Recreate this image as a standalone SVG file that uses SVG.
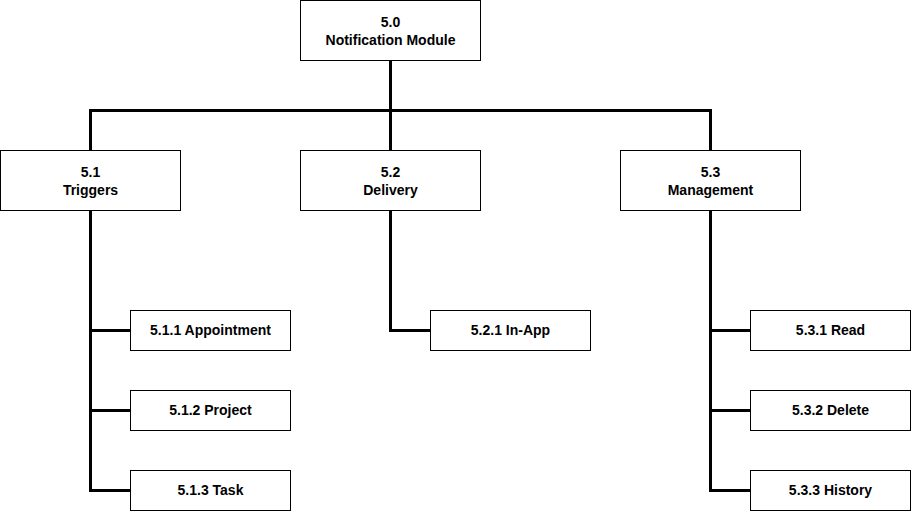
<svg xmlns="http://www.w3.org/2000/svg" width="912" height="512" viewBox="0 0 912 512">
<style>
.box{fill:#fff;stroke:#000;stroke-width:1}
.t{font-family:"Liberation Sans",Arial,sans-serif;font-size:14px;font-weight:bold;fill:#000;text-anchor:middle}
.c{fill:none;stroke:#000;stroke-width:3;stroke-linejoin:miter}
</style>
<rect width="912" height="512" fill="#fff"/>
<g id="connectors">
<path class="c" d="M390.5 60.5V150.5"/>
<path class="c" d="M90.5 150.5V110.5H710.5V150.5"/>
<path class="c" d="M90.5 210.5V490.5H130.5M90.5 330.5H130.5M90.5 410.5H130.5"/>
<path class="c" d="M390.5 210.5V330.5H430.5"/>
<path class="c" d="M710.5 210.5V490.5H750.5M710.5 330.5H750.5M710.5 410.5H750.5"/>
</g>
<g id="n50"><rect class="box" x="300.5" y="0.5" width="180" height="60"/><text class="t" x="390.5" y="27">5.0</text><text class="t" x="390.5" y="45">Notification Module</text></g>
<g id="n51"><rect class="box" x="0.5" y="150.5" width="180" height="60"/><text class="t" x="90.5" y="177">5.1</text><text class="t" x="90.5" y="195">Triggers</text></g>
<g id="n52"><rect class="box" x="300.5" y="150.5" width="180" height="60"/><text class="t" x="390.5" y="177">5.2</text><text class="t" x="390.5" y="195">Delivery</text></g>
<g id="n53"><rect class="box" x="620.5" y="150.5" width="180" height="60"/><text class="t" x="710.5" y="177">5.3</text><text class="t" x="710.5" y="195">Management</text></g>
<g id="n511"><rect class="box" x="130.5" y="310.5" width="160" height="40"/><text class="t" x="210.5" y="335">5.1.1 Appointment</text></g>
<g id="n512"><rect class="box" x="130.5" y="390.5" width="160" height="40"/><text class="t" x="210.5" y="415">5.1.2 Project</text></g>
<g id="n513"><rect class="box" x="130.5" y="470.5" width="160" height="40"/><text class="t" x="210.5" y="495">5.1.3 Task</text></g>
<g id="n521"><rect class="box" x="430.5" y="310.5" width="160" height="40"/><text class="t" x="510.5" y="335">5.2.1 In-App</text></g>
<g id="n531"><rect class="box" x="750.5" y="310.5" width="160" height="40"/><text class="t" x="830.5" y="335">5.3.1 Read</text></g>
<g id="n532"><rect class="box" x="750.5" y="390.5" width="160" height="40"/><text class="t" x="830.5" y="415">5.3.2 Delete</text></g>
<g id="n533"><rect class="box" x="750.5" y="470.5" width="160" height="40"/><text class="t" x="830.5" y="495">5.3.3 History</text></g>
</svg>
